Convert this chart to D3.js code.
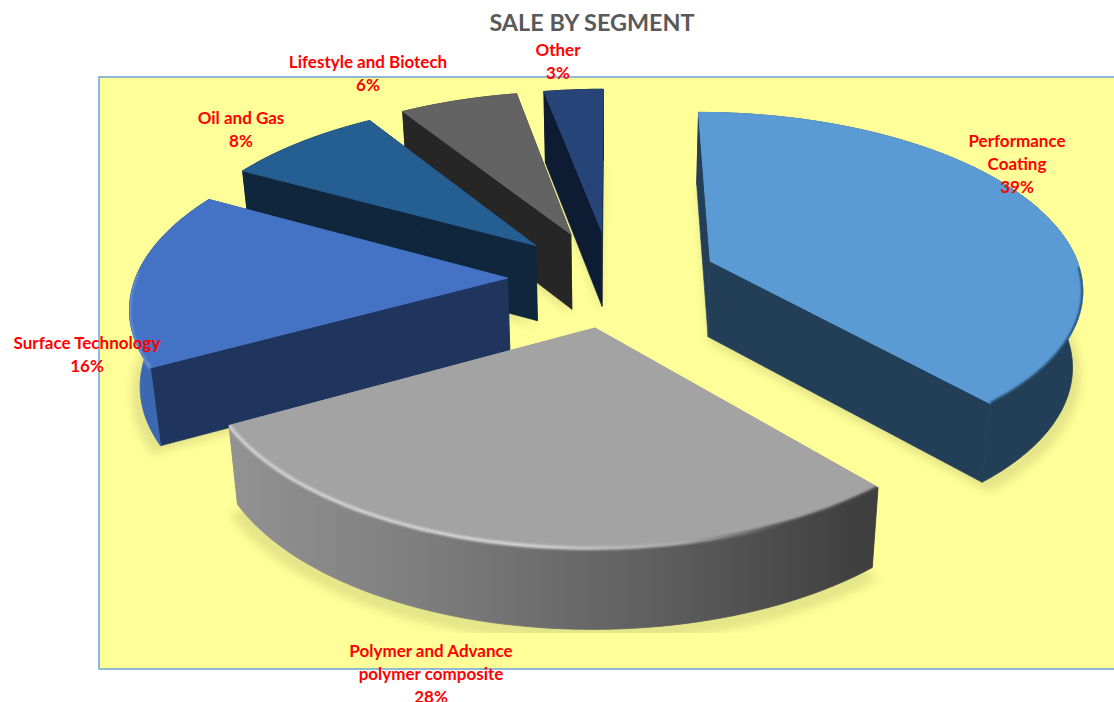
<!DOCTYPE html>
<html>
<head>
<meta charset="utf-8">
<script src="https://cdn.jsdelivr.net/npm/d3@7"></script>
<style>
  body {margin: 0; background: #fff;}
  svg {display: block;}
  text {font-family: Lato, "Open Sans", sans-serif; font-weight: 700;}
</style>
</head>
<body>
<script>
// ////////// Datas ////////////
var segments = ["Performance Coating", "Polymer and Advance polymer composite", "Surface Technology", "Oil and Gas", "Lifestyle and Biotech", "Other"];
var shares = [38.6, 28.4, 16, 8, 6, 3]; // aus dem bild geschaetzt, beschriftung ist gerundet
var labelLines = [["Performance", "Coating"], ["Polymer and Advance", "polymer composite"], ["Surface Technology"], ["Oil and Gas"], ["Lifestyle and Biotech"], ["Other"]];

// ////////// Styles ////////////
var topColors  = ["#5b9bd5", "#a3a3a3", "#4472c4", "#255e91", "#636363", "#264478"];
var wallColors = ["#233f57", "#a3a3a3", "#20355e", "#0f263d", "#262626", "#0d1b33"];
var arcColors  = ["#233f57", "url(#polyWall)", "#3c68b2", "#0f263d", "#262626", "#0d1b33"];
// x = mitte, y = grundlinie der ersten zeile
var labelPos = [[1017, 147], [431, 657], [87, 349], [241, 124], [368, 68], [558, 56]];
var drawOrder = [5, 4, 3, 2, 0, 1]; // von hinten nach vorne
var nudgeX = [0, 0, -0.006, -0.012, -0.017, -0.008]; // hintere stuecke sitzen etwas weiter links

// ////////////// svg //////////////
var width = 1114, height = 702;
var svg = d3.select("body").append("svg")
  .attr("width", width)
  .attr("height", height);

var defs = svg.append("defs");
defs.append("filter").attr("id", "soft")
  .attr("x", "-20%").attr("y", "-20%").attr("width", "140%").attr("height", "140%")
  .append("feGaussianBlur").attr("stdDeviation", 5);
defs.append("filter").attr("id", "rim")
  .attr("x", "-10%").attr("y", "-10%").attr("width", "120%").attr("height", "120%")
  .append("feGaussianBlur").attr("stdDeviation", 1.3);
defs.append("clipPath").attr("id", "shadowClip")
  .append("rect").attr("x", 100).attr("y", 78).attr("width", 1014).attr("height", 555);

function gradient(id, x1, x2, stops) {
  var g = defs.append("linearGradient").attr("id", id)
    .attr("gradientUnits", "userSpaceOnUse")
    .attr("x1", x1).attr("x2", x2).attr("y1", 0).attr("y2", 0);
  stops.forEach(function(s) {
    g.append("stop").attr("offset", s[0]).attr("stop-color", s[1]);
  });
}
gradient("polyWall", 232, 880, [[0, "#929292"], [0.3, "#7d7d7d"], [0.65, "#5f5f5f"], [0.95, "#414141"], [1, "#3e3e3e"]]);
gradient("polyRim", 232, 880, [[0, "#d0d0d0"], [0.45, "#d4d4d4"], [0.7, "#a8a8a8"], [0.85, "#4a4a4a"], [1, "#3e3e3e"]]);

svg.append("rect")
  .attr("x", 99).attr("y", 77)
  .attr("width", 1100).attr("height", 592)
  .attr("fill", "#ffff99")
  .attr("stroke", "#6ea4d6")
  .attr("stroke-width", 1.5);

// ////////////// Projektion //////////////
var cx = 614, cy = 278;
var scaleX = 372, scaleY = 174;
var persp = 0.14;       // perspektive der ebene
var explode = 0.28;     // abstand der stuecke von der mitte
var thickness = 76;
var thickPersp = 0.05;
var converge = 0.022;   // untere ebene liegt etwas weiter weg

function project(x, y, z) {
  var f = 1 / (1 + persp * y);
  return [cx + scaleX * x * f * (1 - converge * z),
          cy - scaleY * y * f + z * thickness / (1 + thickPersp * y)];
}

var arcs = d3.pie().sort(null).value(function(d) {return d;})(shares);
var line = d3.line();

function slicePoint(a, r, angle, z, grow) {
  var mid = (a.startAngle + a.endAngle) / 2;
  var g = grow || 1;
  return project(explode * Math.sin(mid) + nudgeX[a.index] + g * r * Math.sin(angle),
                 explode * Math.cos(mid) + g * r * Math.cos(angle), z);
}

function rimPoints(a, from, to, z, grow) {
  return d3.range(0, 61).map(function(i) {
    return slicePoint(a, 1, from + (to - from) * i / 60, z, grow);
  });
}

function wedge(a, z, grow) {
  return line([slicePoint(a, 0, 0, z, grow)].concat(rimPoints(a, a.startAngle, a.endAngle, z, grow))) + "Z";
}

function radialWall(a, angle) {
  return line([slicePoint(a, 0, 0, 0), slicePoint(a, 1, angle, 0), slicePoint(a, 1, angle, 1), slicePoint(a, 0, 0, 1)]) + "Z";
}

function arcWall(a) {
  return line(rimPoints(a, a.startAngle, a.endAngle, 0).concat(rimPoints(a, a.endAngle, a.startAngle, 1))) + "Z";
}

// //////////// Schatten /////////////
var shadows = svg.append("g")
  .attr("clip-path", "url(#shadowClip)")
  .append("g")
  .attr("filter", "url(#soft)")
  .attr("opacity", 0.1);
arcs.forEach(function(a) {
  shadows.append("path").attr("d", wedge(a, 1.08, 1.025));
});

// //////////// Stuecke /////////////
var pie = svg.append("g");
drawOrder.forEach(function(i) {
  var a = arcs[i];
  var g = pie.append("g").attr("class", "slice");
  [a.startAngle, a.endAngle].forEach(function(angle) {
    g.append("path").attr("d", radialWall(a, angle))
      .attr("fill", wallColors[i])
      .attr("stroke", i == 1 ? "none" : wallColors[i])
      .attr("stroke-width", 0.6);
  });
  g.append("path").attr("d", arcWall(a))
    .attr("fill", arcColors[i])
    .attr("stroke", arcColors[i])
    .attr("stroke-width", 0.8);
  g.append("path").attr("d", wedge(a, 0))
    .attr("fill", topColors[i])
    .attr("stroke", topColors[i])
    .attr("stroke-width", 1);

  // kante bleibt innerhalb des stuecks
  var clip = defs.append("clipPath").attr("id", "sliceClip" + i);
  clip.append("path").attr("d", wedge(a, 0));
  clip.append("path").attr("d", arcWall(a));
});

// //////////// Kanten /////////////
var rad = Math.PI / 180;
function rimStroke(i, from, to, color, w) {
  svg.append("g")
    .attr("clip-path", "url(#sliceClip" + i + ")")
    .append("path")
    .attr("d", line(rimPoints(arcs[i], from * rad, to * rad, 0)))
    .attr("fill", "none")
    .attr("stroke", color)
    .attr("stroke-width", w)
    .attr("filter", "url(#rim)");
}
rimStroke(0, 92, arcs[0].endAngle / rad, "#233f57", 3);
rimStroke(1, arcs[1].startAngle / rad, arcs[1].endAngle / rad, "url(#polyRim)", 3.5);
rimStroke(2, arcs[2].startAngle / rad, 272, "#6d93d6", 3);

// ///////////// Text //////////////
svg.append("text")
  .attr("x", 592).attr("y", 31)
  .attr("text-anchor", "middle")
  .attr("fill", "#595959")
  .attr("font-size", 23.4)
  .text("SALE BY SEGMENT");

arcs.forEach(function(a, i) {
  var t = svg.append("text")
    .attr("text-anchor", "middle")
    .attr("fill", "#ff0000")
    .attr("font-size", 17);
  labelLines[i].concat(d3.format(".0f")(shares[i]) + "%").forEach(function(s, j) {
    t.append("tspan")
      .attr("x", labelPos[i][0])
      .attr("y", labelPos[i][1] + j * 23)
      .text(s);
  });
});
</script>
</body>
</html>
